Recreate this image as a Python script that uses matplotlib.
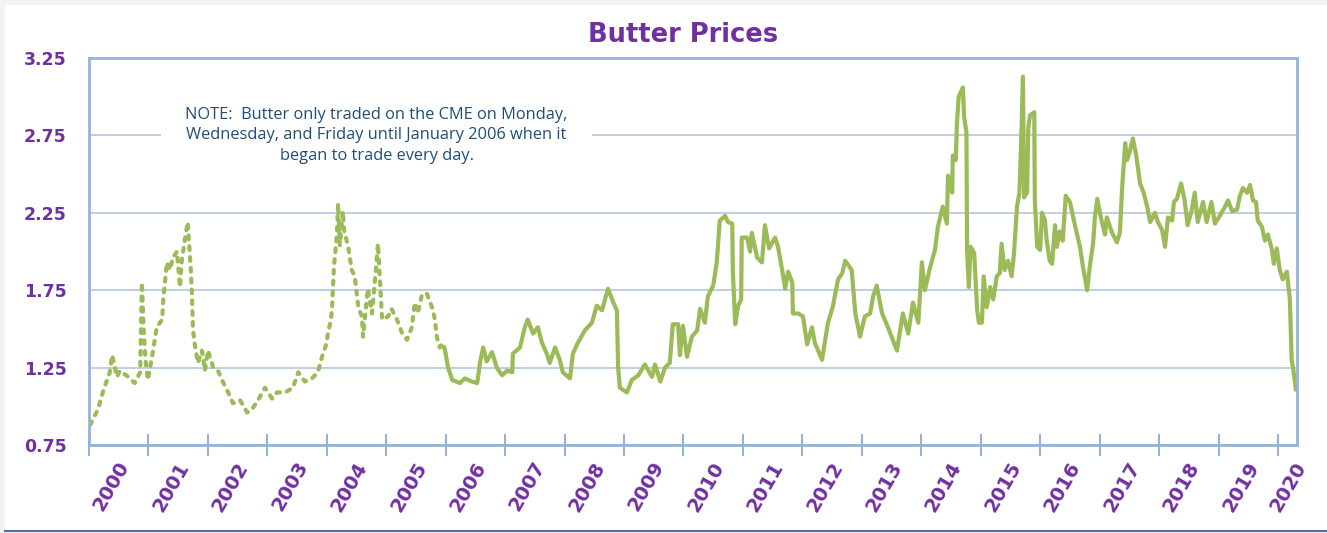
import numpy as np
import matplotlib.pyplot as plt
from matplotlib.transforms import ScaledTranslation
from matplotlib.patches import Rectangle

# Cena masła (USD/lb); daty jako ułamek roku
daty = [
    2000.02, 2000.15, 2000.24, 2000.35, 2000.39, 2000.47, 2000.52, 2000.66, 2000.77, 2000.86,
    2000.89, 2000.92, 2000.95, 2000.99, 2001.06, 2001.14, 2001.23, 2001.25, 2001.31, 2001.36,
    2001.41, 2001.48, 2001.53, 2001.56, 2001.61, 2001.66, 2001.71, 2001.73, 2001.75, 2001.78,
    2001.83, 2001.90, 2001.95, 2002.00, 2002.09, 2002.17, 2002.25, 2002.34, 2002.42, 2002.54,
    2002.66, 2002.74, 2002.83, 2002.96, 2003.08, 2003.16, 2003.30, 2003.43, 2003.52, 2003.63,
    2003.75, 2003.85, 2003.92, 2003.99, 2004.02, 2004.07, 2004.09, 2004.11, 2004.12, 2004.17,
    2004.19, 2004.22, 2004.27, 2004.29, 2004.36, 2004.42, 2004.47, 2004.53, 2004.59, 2004.61,
    2004.69, 2004.76, 2004.83, 2004.86, 2004.93, 2005.03, 2005.09, 2005.18, 2005.27, 2005.35,
    2005.43, 2005.48, 2005.53, 2005.60, 2005.68, 2005.77, 2005.82, 2005.85, 2005.90, 2005.95,
    2005.99, 2006.04, 2006.11, 2006.24, 2006.32, 2006.44, 2006.53, 2006.58, 2006.63, 2006.69,
    2006.78, 2006.86, 2006.95, 2007.03, 2007.12, 2007.13, 2007.25, 2007.33, 2007.38, 2007.47,
    2007.55, 2007.62, 2007.70, 2007.75, 2007.84, 2007.92, 2007.97, 2008.09, 2008.14, 2008.21,
    2008.34, 2008.46, 2008.54, 2008.63, 2008.73, 2008.82, 2008.88, 2008.90, 2008.93, 2009.05,
    2009.13, 2009.24, 2009.35, 2009.47, 2009.52, 2009.61, 2009.69, 2009.77, 2009.82, 2009.91,
    2009.94, 2009.99, 2010.06, 2010.14, 2010.23, 2010.28, 2010.36, 2010.41, 2010.50, 2010.56,
    2010.61, 2010.70, 2010.75, 2010.82, 2010.83, 2010.87, 2010.92, 2010.97, 2010.98, 2011.07,
    2011.12, 2011.15, 2011.24, 2011.32, 2011.37, 2011.44, 2011.54, 2011.59, 2011.66, 2011.71,
    2011.76, 2011.83, 2011.84, 2011.93, 2012.01, 2012.08, 2012.16, 2012.21, 2012.33, 2012.43,
    2012.51, 2012.60, 2012.67, 2012.72, 2012.83, 2012.89, 2012.97, 2013.05, 2013.14, 2013.19,
    2013.25, 2013.34, 2013.44, 2013.52, 2013.59, 2013.69, 2013.78, 2013.86, 2013.95, 2014.01,
    2014.06, 2014.15, 2014.23, 2014.28, 2014.36, 2014.43, 2014.45, 2014.52, 2014.53, 2014.58,
    2014.60, 2014.63, 2014.70, 2014.72, 2014.76, 2014.77, 2014.80, 2014.83, 2014.89, 2014.94,
    2014.97, 2015.02, 2015.05, 2015.10, 2015.16, 2015.21, 2015.27, 2015.32, 2015.35, 2015.40,
    2015.46, 2015.52, 2015.56, 2015.61, 2015.65, 2015.68, 2015.71, 2015.73, 2015.78, 2015.80,
    2015.83, 2015.90, 2015.91, 2015.95, 2016.00, 2016.03, 2016.08, 2016.11, 2016.16, 2016.20,
    2016.25, 2016.28, 2016.33, 2016.38, 2016.43, 2016.50, 2016.59, 2016.67, 2016.72, 2016.79,
    2016.84, 2016.89, 2016.92, 2016.96, 2017.02, 2017.09, 2017.12, 2017.21, 2017.29, 2017.34,
    2017.38, 2017.43, 2017.46, 2017.51, 2017.56, 2017.62, 2017.68, 2017.74, 2017.80, 2017.85,
    2017.93, 2017.98, 2018.05, 2018.10, 2018.15, 2018.22, 2018.25, 2018.30, 2018.37, 2018.43,
    2018.48, 2018.55, 2018.60, 2018.65, 2018.74, 2018.80, 2018.88, 2018.94, 2019.02, 2019.11,
    2019.16, 2019.23, 2019.31, 2019.36, 2019.41, 2019.48, 2019.53, 2019.58, 2019.63, 2019.66,
    2019.73, 2019.78, 2019.83, 2019.90, 2019.93, 2019.98, 2020.03, 2020.08, 2020.15, 2020.20,
    2020.23, 2020.26, 2020.30,
]
ceny = [
    0.88, 0.98, 1.10, 1.22, 1.33, 1.19, 1.23, 1.19, 1.15, 1.22,
    1.80, 1.49, 1.30, 1.17, 1.32, 1.51, 1.56, 1.69, 1.93, 1.88,
    1.96, 2.00, 1.77, 1.94, 2.07, 2.19, 1.90, 1.74, 1.49, 1.40,
    1.28, 1.36, 1.23, 1.36, 1.25, 1.23, 1.16, 1.09, 1.02, 1.04,
    0.96, 0.98, 1.03, 1.12, 1.05, 1.09, 1.09, 1.12, 1.22, 1.16,
    1.18, 1.22, 1.32, 1.40, 1.47, 1.56, 1.64, 1.82, 1.90, 2.11,
    2.31, 2.04, 2.26, 2.14, 2.03, 1.88, 1.84, 1.64, 1.58, 1.45,
    1.76, 1.60, 1.90, 2.05, 1.56, 1.58, 1.63, 1.56, 1.47, 1.43,
    1.51, 1.67, 1.60, 1.72, 1.73, 1.64, 1.56, 1.45, 1.38, 1.41,
    1.36, 1.25, 1.17, 1.15, 1.18, 1.16, 1.15, 1.29, 1.38, 1.29,
    1.35, 1.25, 1.20, 1.23, 1.22, 1.34, 1.38, 1.51, 1.56, 1.47,
    1.51, 1.41, 1.34, 1.28, 1.38, 1.30, 1.22, 1.18, 1.34, 1.40,
    1.49, 1.54, 1.65, 1.62, 1.76, 1.67, 1.62, 1.25, 1.12, 1.09,
    1.17, 1.20, 1.27, 1.19, 1.27, 1.16, 1.25, 1.28, 1.53, 1.53,
    1.33, 1.52, 1.32, 1.45, 1.49, 1.63, 1.54, 1.71, 1.78, 1.93,
    2.20, 2.23, 2.19, 2.18, 1.88, 1.53, 1.65, 1.69, 2.09, 2.09,
    2.00, 2.12, 1.96, 1.93, 2.17, 2.02, 2.09, 2.03, 1.88, 1.76,
    1.87, 1.80, 1.60, 1.60, 1.58, 1.40, 1.51, 1.41, 1.30, 1.54,
    1.64, 1.82, 1.86, 1.94, 1.88, 1.60, 1.45, 1.58, 1.60, 1.71,
    1.78, 1.60, 1.51, 1.43, 1.36, 1.60, 1.47, 1.67, 1.54, 1.93,
    1.75, 1.90, 2.01, 2.16, 2.29, 2.18, 2.49, 2.38, 2.62, 2.59,
    2.83, 3.00, 3.06, 2.87, 2.77, 2.01, 1.77, 2.03, 1.99, 1.62,
    1.54, 1.54, 1.84, 1.64, 1.77, 1.69, 1.84, 1.86, 2.05, 1.88,
    1.94, 1.84, 1.99, 2.29, 2.38, 2.70, 3.13, 2.35, 2.38, 2.80,
    2.88, 2.90, 2.33, 2.03, 2.01, 2.25, 2.20, 2.07, 1.94, 1.92,
    2.17, 2.03, 2.13, 2.07, 2.36, 2.32, 2.16, 2.03, 1.90, 1.75,
    1.92, 2.05, 2.22, 2.34, 2.22, 2.11, 2.22, 2.12, 2.06, 2.12,
    2.42, 2.70, 2.59, 2.65, 2.73, 2.61, 2.44, 2.38, 2.29, 2.19,
    2.25, 2.19, 2.14, 2.03, 2.22, 2.20, 2.32, 2.34, 2.44, 2.33,
    2.17, 2.27, 2.38, 2.19, 2.32, 2.19, 2.32, 2.18, 2.23, 2.29,
    2.33, 2.26, 2.27, 2.36, 2.41, 2.38, 2.43, 2.33, 2.32, 2.20,
    2.16, 2.07, 2.11, 2.01, 1.92, 2.02, 1.88, 1.82, 1.87, 1.69,
    1.30, 1.23, 1.11,
]
lata = list(range(2000, 2021))
y_ticki = [0.75, 1.25, 1.75, 2.25, 2.75, 3.25]
notatka = ("NOTE:  Butter only traded on the CME on Monday,\n"
           "Wednesday, and Friday until January 2006 when it\n"
           "began to trade every day.")

fiolet = '#7030A0'
zielony = '#9BBB59'
niebieski = '#95B3D7'

daty = np.array(daty)
ceny = np.array(ceny)
wczesne = daty <= 2006.0

fig = plt.figure(figsize=(13.27, 5.33), dpi=100, facecolor='#F2F2F5')
fig.patches.append(Rectangle((0.004, 0.006), 0.996, 0.985, transform=fig.transFigure,
                             facecolor='white', edgecolor='none', zorder=-10))
# ciemnoniebieska linia na dole ramki
fig.add_artist(plt.Line2D([0.004, 1.0], [0.004, 0.004], transform=fig.transFigure,
                          color='#4F6FA8', linewidth=1.5))
ax = fig.add_axes([89 / 1327, 88 / 533, 1208 / 1327, 387 / 533])

# do 2006 notowania tylko 3 dni w tygodniu - linia kropkowana
ax.plot(daty[wczesne], ceny[wczesne], color=zielony, linewidth=3.0,
        linestyle=(0, (0.9, 1.7)), dash_capstyle='round')
ax.plot(daty[daty >= 2005.99], ceny[daty >= 2005.99], color=zielony, linewidth=3.0,
        solid_joinstyle='round')

ax.set_xlim(2000, 2020.32)
ax.set_ylim(0.75, 3.25)
ax.set_yticks(y_ticki)
ax.set_yticklabels([f"{v:.2f}" for v in y_ticki])
ax.set_xticks(lata)
ax.set_xticklabels([str(r) for r in lata])
ax.grid(axis='y', color='#B8CCE4', linewidth=1.3)
ax.set_axisbelow(True)

for s in ax.spines.values():
    s.set_color(niebieski)
    s.set_linewidth(2)

ax.tick_params(axis='y', length=0, pad=16, labelsize=12.5, labelcolor=fiolet)
ax.tick_params(axis='x', direction='inout', length=16, width=1.5, color=niebieski,
               pad=5, labelsize=14, labelcolor=fiolet)
for lab in ax.get_yticklabels():
    lab.set_fontweight('bold')
for i, lab in enumerate(ax.get_xticklabels()):
    lab.set_fontweight('bold')
    lab.set_rotation(60)
    lab.set_ha('right')
    lab.set_va('center')
    lab.set_rotation_mode('anchor')
    dx = 0.36 if i < len(lata) - 1 else 0.24
    lab.set_transform(lab.get_transform() + ScaledTranslation(dx, 0, fig.dpi_scale_trans))

ax.text(0.238, 0.80, notatka, transform=ax.transAxes, ha='center', va='center',
        fontsize=11.8, color='#1F4E79', family='Open Sans', linespacing=1.35,
        bbox=dict(facecolor='white', edgecolor='none', boxstyle='square,pad=1.5'))

fig.text(683 / 1327, 1 - 35 / 533, "Butter Prices", ha='center', va='center',
         fontsize=18.5, fontweight='bold', color=fiolet)

fig.savefig('out.png', dpi=100, facecolor=fig.get_facecolor())
